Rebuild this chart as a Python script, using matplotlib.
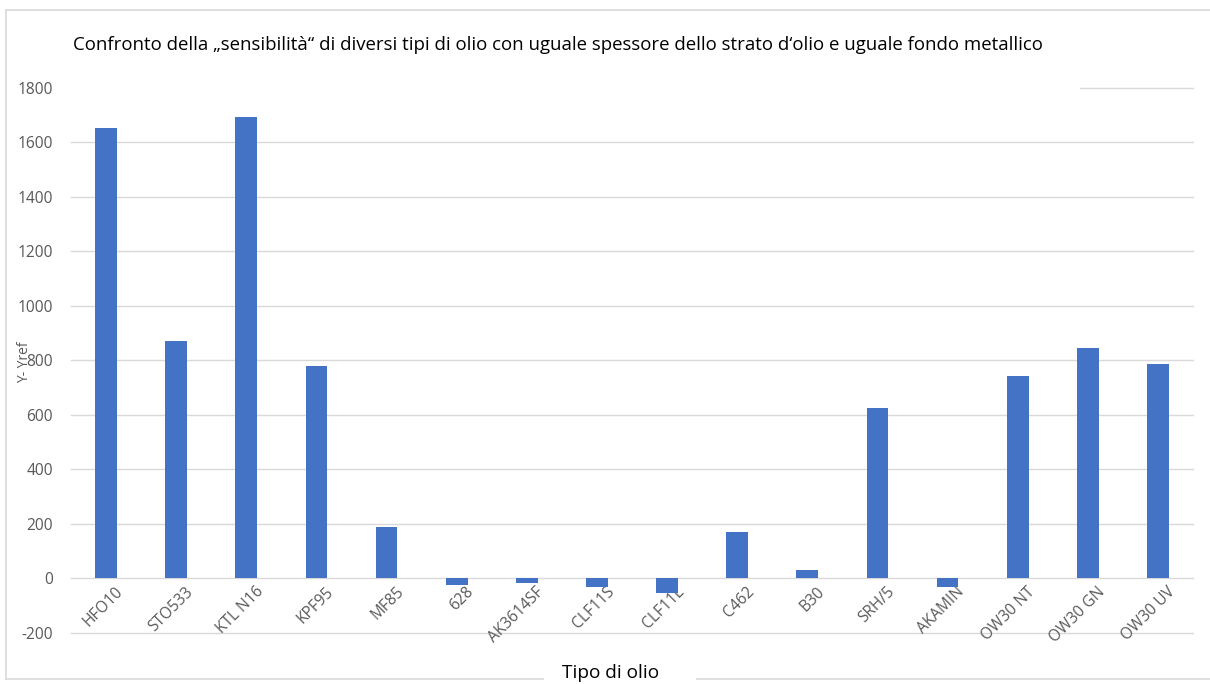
import matplotlib.pyplot as plt
import matplotlib.transforms as mtransforms
from matplotlib.lines import Line2D

plt.rcParams['font.family'] = ['Open Sans', 'DejaVu Sans']

# dati
oli = ['HFO10', 'STO533', 'KTL N16', 'KPF95', 'MF85', '628', 'AK3614SF', 'CLF11S',
       'CLF11L', 'C462', 'B30', 'SRH/5', 'AKAMIN', 'OW30 NT', 'OW30 GN', 'OW30 UV']
valori = [1652, 870, 1695, 779, 187, -26, -19, -32, -54, 169, 29, 625, -32, 742, 845, 786]
y_ticks = [-200, 0, 200, 400, 600, 800, 1000, 1200, 1400, 1600, 1800]

W, H = 1210, 684
fig = plt.figure(figsize=(W / 100, H / 100), dpi=100)
ax = fig.add_axes([71 / W, 1 - 633.6 / H, (1193 - 71) / W, (633.6 - 88) / H])

x = list(range(len(oli)))
ax.bar(x, valori, width=0.31, color='#4472C4', zorder=3)
ax.set_xlim(-0.5, len(oli) - 0.5)
ax.set_ylim(-203, 1800)

# etichette delle categorie vicino allo zero, come in Excel
ax.spines['bottom'].set_position(('data', 0))
for s in ax.spines.values():
    s.set_visible(False)

# griglia orizzontale (la linea a 1800 e' coperta dal titolo)
for t in y_ticks:
    if t == 1800:
        ax.axhline(t, xmin=(1080 - 71) / 1122, xmax=1, color='#d9d9d9', lw=1,
                   zorder=1, clip_on=False)
    else:
        ax.axhline(t, color='#d9d9d9', lw=1, zorder=1, clip_on=False)

ax.set_yticks(y_ticks)
ax.set_yticklabels([str(t) for t in y_ticks], fontsize=11.2, color='#595959')
ax.set_xticks(x)
ax.set_xticklabels(oli, rotation=45, ha='right', rotation_mode='anchor',
                   fontsize=11.2, color='#595959')
ax.tick_params(axis='x', length=0, pad=4)
ax.tick_params(axis='y', length=0, pad=13)
off = mtransforms.ScaledTranslation(9 / 100, 0, fig.dpi_scale_trans)
for lab in ax.get_xticklabels():
    lab.set_transform(lab.get_transform() + off)

ax.set_ylabel('Y- Yref', fontsize=10, color='#595959')
ax.yaxis.set_label_coords((32 - 71) / 1122, (633.6 - 362) / 545.6)

fig.text(73 / W, 1 - 45 / H,
         'Confronto della \u201esensibilit\u00e0\u201c di diversi tipi di olio con uguale spessore '
         'dello strato d\u2018olio e uguale fondo metallico',
         fontsize=13.4, color='black', va='center', ha='left')
fig.text(611 / W, 1 - 673 / H, 'Tipo di olio', fontsize=13.7, color='black',
         ha='center', va='center')

# cornice esterna
bc = '#d9d9d9'
def seg(x0, y0, x1, y1):
    fig.add_artist(Line2D([x0 / W, x1 / W], [1 - y0 / H, 1 - y1 / H],
                          transform=fig.transFigure, color=bc, lw=1.2))
seg(6, 10, W, 10)
seg(6, 10, 6, 679)
seg(6, 679, 543, 679)
seg(697, 679, W, 679)

fig.savefig('out.png', dpi=100)
